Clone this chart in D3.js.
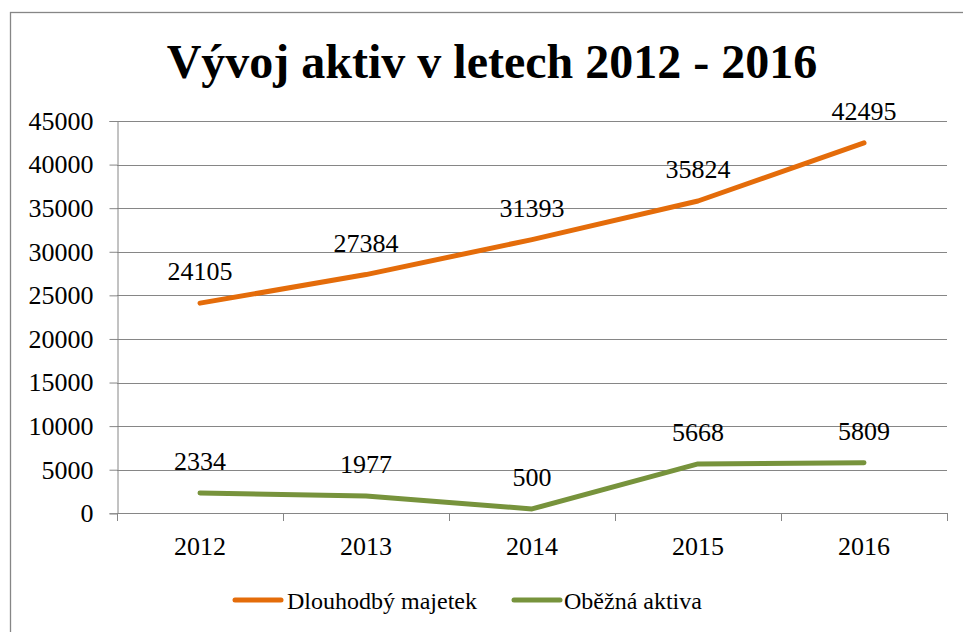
<!DOCTYPE html>
<html>
<head>
<meta charset="utf-8">
<script src="https://cdn.jsdelivr.net/npm/d3@7"></script>
<style>
  html, body { margin: 0; padding: 0; background: #fff; }
  svg { display: block; }
  text { font-family: "Liberation Serif", "Times New Roman", serif; fill: #000; }
</style>
</head>
<body>
<svg id="chart" width="963" height="632"></svg>
<script>
const title = "Vývoj aktiv v letech 2012 - 2016";
const years = ["2012", "2013", "2014", "2015", "2016"];
const seriesNames = ["Dlouhodbý majetek", "Oběžná aktiva"];
const dlouhodobyMajetek = [24105, 27384, 31393, 35824, 42495];
const obeznaAktiva = [2334, 1977, 500, 5668, 5809];
const yTicks = [0, 5000, 10000, 15000, 20000, 25000, 30000, 35000, 40000, 45000];
const colors = ["#E46C0A", "#77933C"];

(function () {
const svg = d3.select("#chart");
const pL = 117, pR = 947, pT = 121, pB = 513.3;
const gridColor = "#868686";
const serif = "Liberation Serif, Times New Roman, serif";

// chart frame
svg.append("rect")
  .attr("x", 10.5).attr("y", 12.5)
  .attr("width", 1000).attr("height", 700)
  .attr("fill", "none").attr("stroke", gridColor).attr("stroke-width", 1.3);

// title
svg.append("text")
  .attr("x", 492).attr("y", 78)
  .attr("text-anchor", "middle").attr("font-family", serif)
  .attr("font-size", 48).attr("font-weight", "bold")
  .text(title);

const x = d3.scaleBand().domain(years).range([pL, pR]).padding(0);
const y = d3.scaleLinear().domain([0, 45000]).range([pB, pT]);

// gridlines
svg.append("g").selectAll("line").data(yTicks.filter(d => d > 0)).join("line")
  .attr("x1", pL).attr("x2", pR)
  .attr("y1", d => Math.round(y(d)) + 0.5).attr("y2", d => Math.round(y(d)) + 0.5)
  .attr("stroke", gridColor).attr("stroke-width", 1);

// y axis
const yAxis = svg.append("g").attr("transform", `translate(${pL + 0.5},0)`)
  .call(d3.axisLeft(y).tickValues(yTicks).tickSize(8).tickPadding(16).tickFormat(d3.format("d")));
yAxis.attr("font-family", serif);
yAxis.select(".domain").attr("stroke", gridColor);
yAxis.selectAll(".tick line").attr("stroke", gridColor);
yAxis.selectAll(".tick text").attr("font-size", 26)
  .attr("font-family", serif).attr("fill", "#000");

// x axis
const xg = svg.append("g");
xg.append("line").attr("x1", pL).attr("x2", pR)
  .attr("y1", Math.round(pB) + 0.5).attr("y2", Math.round(pB) + 0.5)
  .attr("stroke", gridColor);
const bounds = years.map(d => x(d)).concat([x.range()[1]]);
xg.selectAll("line.tk").data(bounds).join("line").attr("class", "tk")
  .attr("x1", d => Math.round(d) + 0.5).attr("x2", d => Math.round(d) + 0.5)
  .attr("y1", Math.round(pB)).attr("y2", Math.round(pB) + 8)
  .attr("stroke", gridColor);
xg.selectAll("text").data(years).join("text")
  .attr("x", d => x(d) + x.bandwidth() / 2).attr("y", 555)
  .attr("text-anchor", "middle").attr("font-size", 26).attr("font-family", serif)
  .text(d => d);

// lines
const series = [dlouhodobyMajetek, obeznaAktiva];
const line = d3.line()
  .x((d, i) => x(years[i]) + x.bandwidth() / 2)
  .y(d => y(d))
  .curve(d3.curveLinear);
series.forEach((vals, si) => {
  svg.append("path").datum(vals)
    .attr("d", line)
    .attr("fill", "none").attr("stroke", colors[si])
    .attr("stroke-width", 5).attr("stroke-linecap", "round").attr("stroke-linejoin", "round");
  svg.append("g").selectAll("text").data(vals).join("text")
    .attr("x", (d, i) => x(years[i]) + x.bandwidth() / 2)
    .attr("y", d => y(d) - 23)
    .attr("text-anchor", "middle").attr("font-size", 26).attr("font-family", serif)
    .text(d => d);
});

// legend
const legendItems = [
  { lx: 235, tx: 287 },
  { lx: 514, tx: 564 }
];
legendItems.forEach((it, i) => {
  svg.append("line").attr("x1", it.lx).attr("x2", it.lx + 46)
    .attr("y1", 600).attr("y2", 600)
    .attr("stroke", colors[i]).attr("stroke-width", 5).attr("stroke-linecap", "round");
  svg.append("text").attr("x", it.tx).attr("y", 609)
    .attr("font-size", 24).attr("font-family", serif).text(seriesNames[i]);
});
})();
</script>
</body>
</html>
